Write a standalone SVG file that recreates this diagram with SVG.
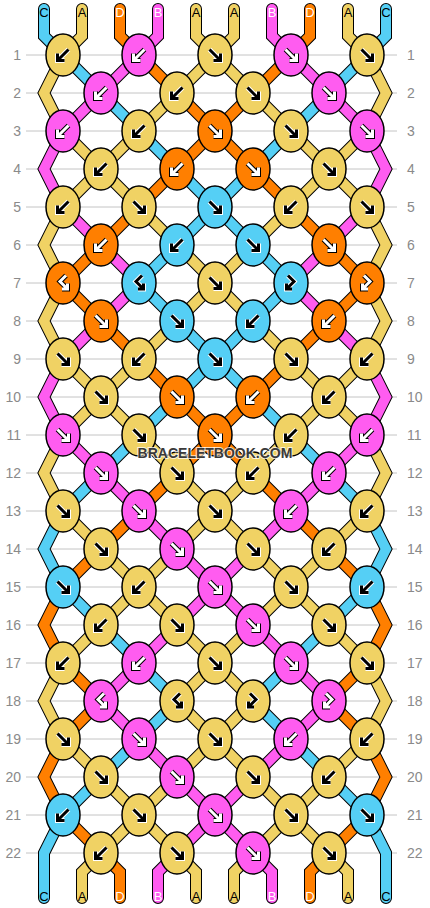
<svg xmlns="http://www.w3.org/2000/svg" xmlns:xlink="http://www.w3.org/1999/xlink" width="430" height="908" viewBox="0 0 430 908">
<style>
.ln{stroke:#c4c4c4;stroke-width:1}
.num{font-family:"Liberation Sans",Arial,sans-serif;font-size:14px;fill:#8a8a8a}
.so{fill:none;stroke:#000;stroke-width:12;stroke-linecap:round;stroke-linejoin:miter}
.sf{fill:none;stroke-width:10;stroke-linecap:round;stroke-linejoin:miter}
.cy{stroke:#F0D264}.cp{stroke:#FF5CF0}.co{stroke:#FF7F00}.cb{stroke:#55CFF5}
ellipse{stroke:#000;stroke-width:1.5}
.ky{fill:#F0D264}.kp{fill:#FF5CF0}.ko{fill:#FF7F00}.kc{fill:#55CFF5}
.aow{fill:none;stroke:#fff;stroke-width:5;stroke-linejoin:miter}
.aik{fill:none;stroke:#000;stroke-width:3;stroke-linejoin:miter}
.aok{fill:none;stroke:#000;stroke-width:5;stroke-linejoin:miter}
.aiw{fill:none;stroke:#fff;stroke-width:3;stroke-linejoin:miter}
.lt{font-family:"Liberation Sans",Arial,sans-serif;font-size:13px;text-anchor:middle}
.lk{fill:#000}.lw{fill:#fff}
.wm{font-family:"Liberation Sans",Arial,sans-serif;font-size:14px;font-weight:bold;text-anchor:middle;fill:#3a3a3a;stroke:#fff;stroke-width:2;stroke-opacity:0.75;paint-order:stroke}
</style>
<defs>
<path id="pf" d="M-5.5,-5.5 L5,5 M5.5,-1.5 L5.5,5.5 L-1.5,5.5"/>
<path id="pb" d="M5.5,-5.5 L-5,5 M-5.5,-1.5 L-5.5,5.5 L1.5,5.5"/>
<path id="pfb" d="M-3,-7.5 L3,-1.5 L-4,5.5 M-4.5,0.5 L-4.5,6 L1,6"/>
<path id="pbf" d="M3,-7.5 L-3,-1.5 L4,5.5 M4.5,0.5 L4.5,6 L-1,6"/>
<g id="fL"><use href="#pf" class="aow"/><use href="#pf" class="aik"/></g>
<g id="fD"><use href="#pf" class="aok"/><use href="#pf" class="aiw"/></g>
<g id="bL"><use href="#pb" class="aow"/><use href="#pb" class="aik"/></g>
<g id="bD"><use href="#pb" class="aok"/><use href="#pb" class="aiw"/></g>
<g id="fbL"><use href="#pfb" class="aow"/><use href="#pfb" class="aik"/></g>
<g id="fbD"><use href="#pfb" class="aok"/><use href="#pfb" class="aiw"/></g>
<g id="bfL"><use href="#pbf" class="aow"/><use href="#pbf" class="aik"/></g>
<g id="bfD"><use href="#pbf" class="aok"/><use href="#pbf" class="aiw"/></g>
<path id="s0" d="M44,9 L44,36 L63,55 L101,93 L139,131 L177,169 L215,207 L253,245 L291,283 L253,321 L215,359 L177,397 L139,435 L101,473 L63,511 L44,549 L63,587 L101,625 L139,663 L177,701 L139,739 L101,777 L63,815 L44,853 L44,898"/>
<path id="s1" d="M82,9 L82,36 L63,55 L44,93 L63,131 L101,169 L139,207 L177,245 L215,283 L253,321 L291,359 L329,397 L367,435 L386,473 L367,511 L329,549 L291,587 L253,625 L215,663 L177,701 L215,739 L253,777 L291,815 L329,853 L348,872 L348,898"/>
<path id="s2" d="M120,9 L120,36 L139,55 L177,93 L215,131 L253,169 L291,207 L329,245 L367,283 L329,321 L291,359 L253,397 L215,435 L177,473 L139,511 L101,549 L63,587 L44,625 L63,663 L101,701 L63,739 L44,777 L63,815 L101,853 L120,872 L120,898"/>
<path id="s3" d="M158,9 L158,36 L139,55 L101,93 L63,131 L44,169 L63,207 L101,245 L139,283 L101,321 L63,359 L44,397 L63,435 L101,473 L139,511 L177,549 L215,587 L253,625 L291,663 L329,701 L291,739 L253,777 L215,815 L177,853 L158,872 L158,898"/>
<path id="s4" d="M196,9 L196,36 L215,55 L253,93 L291,131 L329,169 L367,207 L386,245 L367,283 L386,321 L367,359 L329,397 L291,435 L253,473 L215,511 L177,549 L139,587 L101,625 L63,663 L44,701 L63,739 L101,777 L139,815 L177,853 L196,872 L196,898"/>
<path id="s5" d="M234,9 L234,36 L215,55 L177,93 L139,131 L101,169 L63,207 L44,245 L63,283 L44,321 L63,359 L101,397 L139,435 L177,473 L215,511 L253,549 L291,587 L329,625 L367,663 L386,701 L367,739 L329,777 L291,815 L253,853 L234,872 L234,898"/>
<path id="s6" d="M272,9 L272,36 L291,55 L329,93 L367,131 L386,169 L367,207 L329,245 L291,283 L329,321 L367,359 L386,397 L367,435 L329,473 L291,511 L253,549 L215,587 L177,625 L139,663 L101,701 L139,739 L177,777 L215,815 L253,853 L272,872 L272,898"/>
<path id="s7" d="M310,9 L310,36 L291,55 L253,93 L215,131 L177,169 L139,207 L101,245 L63,283 L101,321 L139,359 L177,397 L215,435 L253,473 L291,511 L329,549 L367,587 L386,625 L367,663 L329,701 L367,739 L386,777 L367,815 L329,853 L310,872 L310,898"/>
<path id="s8" d="M348,9 L348,36 L367,55 L386,93 L367,131 L329,169 L291,207 L253,245 L215,283 L177,321 L139,359 L101,397 L63,435 L44,473 L63,511 L101,549 L139,587 L177,625 L215,663 L253,701 L215,739 L177,777 L139,815 L101,853 L82,872 L82,898"/>
<path id="s9" d="M386,9 L386,36 L367,55 L329,93 L291,131 L253,169 L215,207 L177,245 L139,283 L177,321 L215,359 L253,397 L291,435 L329,473 L367,511 L386,549 L367,587 L329,625 L291,663 L253,701 L291,739 L329,777 L367,815 L386,853 L386,898"/>
</defs>
<rect width="430" height="908" fill="#fff"/>
<g id="rows">
<line class="ln" x1="26" y1="55" x2="397" y2="55"/><line class="ln" x1="26" y1="93" x2="397" y2="93"/><line class="ln" x1="26" y1="131" x2="397" y2="131"/><line class="ln" x1="26" y1="169" x2="397" y2="169"/><line class="ln" x1="26" y1="207" x2="397" y2="207"/><line class="ln" x1="26" y1="245" x2="397" y2="245"/><line class="ln" x1="26" y1="283" x2="397" y2="283"/><line class="ln" x1="26" y1="321" x2="397" y2="321"/><line class="ln" x1="26" y1="359" x2="397" y2="359"/><line class="ln" x1="26" y1="397" x2="397" y2="397"/><line class="ln" x1="26" y1="435" x2="397" y2="435"/><line class="ln" x1="26" y1="473" x2="397" y2="473"/><line class="ln" x1="26" y1="511" x2="397" y2="511"/><line class="ln" x1="26" y1="549" x2="397" y2="549"/><line class="ln" x1="26" y1="587" x2="397" y2="587"/><line class="ln" x1="26" y1="625" x2="397" y2="625"/><line class="ln" x1="26" y1="663" x2="397" y2="663"/><line class="ln" x1="26" y1="701" x2="397" y2="701"/><line class="ln" x1="26" y1="739" x2="397" y2="739"/><line class="ln" x1="26" y1="777" x2="397" y2="777"/><line class="ln" x1="26" y1="815" x2="397" y2="815"/><line class="ln" x1="26" y1="853" x2="397" y2="853"/>
<g class="num" text-anchor="end">
<text x="21" y="60">1</text><text x="21" y="98">2</text><text x="21" y="136">3</text><text x="21" y="174">4</text><text x="21" y="212">5</text><text x="21" y="250">6</text><text x="21" y="288">7</text><text x="21" y="326">8</text><text x="21" y="364">9</text><text x="21" y="402">10</text><text x="21" y="440">11</text><text x="21" y="478">12</text><text x="21" y="516">13</text><text x="21" y="554">14</text><text x="21" y="592">15</text><text x="21" y="630">16</text><text x="21" y="668">17</text><text x="21" y="706">18</text><text x="21" y="744">19</text><text x="21" y="782">20</text><text x="21" y="820">21</text><text x="21" y="858">22</text>
</g>
<g class="num" text-anchor="start">
<text x="407" y="60">1</text><text x="407" y="98">2</text><text x="407" y="136">3</text><text x="407" y="174">4</text><text x="407" y="212">5</text><text x="407" y="250">6</text><text x="407" y="288">7</text><text x="407" y="326">8</text><text x="407" y="364">9</text><text x="407" y="402">10</text><text x="407" y="440">11</text><text x="407" y="478">12</text><text x="407" y="516">13</text><text x="407" y="554">14</text><text x="407" y="592">15</text><text x="407" y="630">16</text><text x="407" y="668">17</text><text x="407" y="706">18</text><text x="407" y="744">19</text><text x="407" y="782">20</text><text x="407" y="820">21</text><text x="407" y="858">22</text>
</g>
</g>
<g id="connectors">
<use href="#s0" class="so"/><use href="#s1" class="so"/><use href="#s2" class="so"/><use href="#s3" class="so"/><use href="#s4" class="so"/><use href="#s5" class="so"/><use href="#s6" class="so"/><use href="#s7" class="so"/><use href="#s8" class="so"/><use href="#s9" class="so"/>
<use href="#s0" class="sf cb"/><use href="#s1" class="sf cy"/><use href="#s2" class="sf co"/><use href="#s3" class="sf cp"/><use href="#s4" class="sf cy"/><use href="#s5" class="sf cy"/><use href="#s6" class="sf cp"/><use href="#s7" class="sf co"/><use href="#s8" class="sf cy"/><use href="#s9" class="sf cb"/>
</g>
<g id="labels" class="lt">
<text class="lk" x="44" y="17">C</text><text class="lk" x="82" y="17">A</text><text class="lw" x="120" y="17">D</text><text class="lw" x="158" y="17">B</text><text class="lk" x="196" y="17">A</text><text class="lk" x="234" y="17">A</text><text class="lw" x="272" y="17">B</text><text class="lw" x="310" y="17">D</text><text class="lk" x="348" y="17">A</text><text class="lk" x="386" y="17">C</text>
<text class="lk" x="44" y="901">C</text><text class="lk" x="82" y="901">A</text><text class="lw" x="120" y="901">D</text><text class="lw" x="158" y="901">B</text><text class="lk" x="196" y="901">A</text><text class="lk" x="234" y="901">A</text><text class="lw" x="272" y="901">B</text><text class="lw" x="310" y="901">D</text><text class="lk" x="348" y="901">A</text><text class="lk" x="386" y="901">C</text>
</g>
<g id="knots">
<g id="k1-1"><ellipse class="ky" cx="63" cy="55" rx="17" ry="21"/><use href="#bL" x="63" y="55"/></g>
<g id="k1-2"><ellipse class="kp" cx="139" cy="55" rx="17" ry="21"/><use href="#bD" x="139" y="55"/></g>
<g id="k1-3"><ellipse class="ky" cx="215" cy="55" rx="17" ry="21"/><use href="#fL" x="215" y="55"/></g>
<g id="k1-4"><ellipse class="kp" cx="291" cy="55" rx="17" ry="21"/><use href="#fD" x="291" y="55"/></g>
<g id="k1-5"><ellipse class="ky" cx="367" cy="55" rx="17" ry="21"/><use href="#fL" x="367" y="55"/></g>
<g id="k2-1"><ellipse class="kp" cx="101" cy="93" rx="17" ry="21"/><use href="#bD" x="101" y="93"/></g>
<g id="k2-2"><ellipse class="ky" cx="177" cy="93" rx="17" ry="21"/><use href="#bL" x="177" y="93"/></g>
<g id="k2-3"><ellipse class="ky" cx="253" cy="93" rx="17" ry="21"/><use href="#fL" x="253" y="93"/></g>
<g id="k2-4"><ellipse class="kp" cx="329" cy="93" rx="17" ry="21"/><use href="#fD" x="329" y="93"/></g>
<g id="k3-1"><ellipse class="kp" cx="63" cy="131" rx="17" ry="21"/><use href="#bD" x="63" y="131"/></g>
<g id="k3-2"><ellipse class="ky" cx="139" cy="131" rx="17" ry="21"/><use href="#bL" x="139" y="131"/></g>
<g id="k3-3"><ellipse class="ko" cx="215" cy="131" rx="17" ry="21"/><use href="#fD" x="215" y="131"/></g>
<g id="k3-4"><ellipse class="ky" cx="291" cy="131" rx="17" ry="21"/><use href="#fL" x="291" y="131"/></g>
<g id="k3-5"><ellipse class="kp" cx="367" cy="131" rx="17" ry="21"/><use href="#fD" x="367" y="131"/></g>
<g id="k4-1"><ellipse class="ky" cx="101" cy="169" rx="17" ry="21"/><use href="#bL" x="101" y="169"/></g>
<g id="k4-2"><ellipse class="ko" cx="177" cy="169" rx="17" ry="21"/><use href="#bD" x="177" y="169"/></g>
<g id="k4-3"><ellipse class="ko" cx="253" cy="169" rx="17" ry="21"/><use href="#fD" x="253" y="169"/></g>
<g id="k4-4"><ellipse class="ky" cx="329" cy="169" rx="17" ry="21"/><use href="#fL" x="329" y="169"/></g>
<g id="k5-1"><ellipse class="ky" cx="63" cy="207" rx="17" ry="21"/><use href="#bL" x="63" y="207"/></g>
<g id="k5-2"><ellipse class="ky" cx="139" cy="207" rx="17" ry="21"/><use href="#fL" x="139" y="207"/></g>
<g id="k5-3"><ellipse class="kc" cx="215" cy="207" rx="17" ry="21"/><use href="#fL" x="215" y="207"/></g>
<g id="k5-4"><ellipse class="ky" cx="291" cy="207" rx="17" ry="21"/><use href="#bL" x="291" y="207"/></g>
<g id="k5-5"><ellipse class="ky" cx="367" cy="207" rx="17" ry="21"/><use href="#fL" x="367" y="207"/></g>
<g id="k6-1"><ellipse class="ko" cx="101" cy="245" rx="17" ry="21"/><use href="#bD" x="101" y="245"/></g>
<g id="k6-2"><ellipse class="kc" cx="177" cy="245" rx="17" ry="21"/><use href="#bL" x="177" y="245"/></g>
<g id="k6-3"><ellipse class="kc" cx="253" cy="245" rx="17" ry="21"/><use href="#fL" x="253" y="245"/></g>
<g id="k6-4"><ellipse class="ko" cx="329" cy="245" rx="17" ry="21"/><use href="#fD" x="329" y="245"/></g>
<g id="k7-1"><ellipse class="ko" cx="63" cy="283" rx="17" ry="21"/><use href="#bfD" x="63" y="283"/></g>
<g id="k7-2"><ellipse class="kc" cx="139" cy="283" rx="17" ry="21"/><use href="#bfL" x="139" y="283"/></g>
<g id="k7-3"><ellipse class="ky" cx="215" cy="283" rx="17" ry="21"/><use href="#fL" x="215" y="283"/></g>
<g id="k7-4"><ellipse class="kc" cx="291" cy="283" rx="17" ry="21"/><use href="#fbL" x="291" y="283"/></g>
<g id="k7-5"><ellipse class="ko" cx="367" cy="283" rx="17" ry="21"/><use href="#fbD" x="367" y="283"/></g>
<g id="k8-1"><ellipse class="ko" cx="101" cy="321" rx="17" ry="21"/><use href="#fD" x="101" y="321"/></g>
<g id="k8-2"><ellipse class="kc" cx="177" cy="321" rx="17" ry="21"/><use href="#fL" x="177" y="321"/></g>
<g id="k8-3"><ellipse class="kc" cx="253" cy="321" rx="17" ry="21"/><use href="#bL" x="253" y="321"/></g>
<g id="k8-4"><ellipse class="ko" cx="329" cy="321" rx="17" ry="21"/><use href="#bD" x="329" y="321"/></g>
<g id="k9-1"><ellipse class="ky" cx="63" cy="359" rx="17" ry="21"/><use href="#fL" x="63" y="359"/></g>
<g id="k9-2"><ellipse class="ky" cx="139" cy="359" rx="17" ry="21"/><use href="#bL" x="139" y="359"/></g>
<g id="k9-3"><ellipse class="kc" cx="215" cy="359" rx="17" ry="21"/><use href="#fL" x="215" y="359"/></g>
<g id="k9-4"><ellipse class="ky" cx="291" cy="359" rx="17" ry="21"/><use href="#fL" x="291" y="359"/></g>
<g id="k9-5"><ellipse class="ky" cx="367" cy="359" rx="17" ry="21"/><use href="#bL" x="367" y="359"/></g>
<g id="k10-1"><ellipse class="ky" cx="101" cy="397" rx="17" ry="21"/><use href="#fL" x="101" y="397"/></g>
<g id="k10-2"><ellipse class="ko" cx="177" cy="397" rx="17" ry="21"/><use href="#fD" x="177" y="397"/></g>
<g id="k10-3"><ellipse class="ko" cx="253" cy="397" rx="17" ry="21"/><use href="#bD" x="253" y="397"/></g>
<g id="k10-4"><ellipse class="ky" cx="329" cy="397" rx="17" ry="21"/><use href="#bL" x="329" y="397"/></g>
<g id="k11-1"><ellipse class="kp" cx="63" cy="435" rx="17" ry="21"/><use href="#fD" x="63" y="435"/></g>
<g id="k11-2"><ellipse class="ky" cx="139" cy="435" rx="17" ry="21"/><use href="#fL" x="139" y="435"/></g>
<g id="k11-3"><ellipse class="ko" cx="215" cy="435" rx="17" ry="21"/><use href="#fD" x="215" y="435"/></g>
<g id="k11-4"><ellipse class="ky" cx="291" cy="435" rx="17" ry="21"/><use href="#bL" x="291" y="435"/></g>
<g id="k11-5"><ellipse class="kp" cx="367" cy="435" rx="17" ry="21"/><use href="#bD" x="367" y="435"/></g>
<g id="k12-1"><ellipse class="kp" cx="101" cy="473" rx="17" ry="21"/><use href="#fD" x="101" y="473"/></g>
<g id="k12-2"><ellipse class="ky" cx="177" cy="473" rx="17" ry="21"/><use href="#fL" x="177" y="473"/></g>
<g id="k12-3"><ellipse class="ky" cx="253" cy="473" rx="17" ry="21"/><use href="#bL" x="253" y="473"/></g>
<g id="k12-4"><ellipse class="kp" cx="329" cy="473" rx="17" ry="21"/><use href="#bD" x="329" y="473"/></g>
<g id="k13-1"><ellipse class="ky" cx="63" cy="511" rx="17" ry="21"/><use href="#fL" x="63" y="511"/></g>
<g id="k13-2"><ellipse class="kp" cx="139" cy="511" rx="17" ry="21"/><use href="#fD" x="139" y="511"/></g>
<g id="k13-3"><ellipse class="ky" cx="215" cy="511" rx="17" ry="21"/><use href="#fL" x="215" y="511"/></g>
<g id="k13-4"><ellipse class="kp" cx="291" cy="511" rx="17" ry="21"/><use href="#bD" x="291" y="511"/></g>
<g id="k13-5"><ellipse class="ky" cx="367" cy="511" rx="17" ry="21"/><use href="#bL" x="367" y="511"/></g>
<g id="k14-1"><ellipse class="ky" cx="101" cy="549" rx="17" ry="21"/><use href="#fL" x="101" y="549"/></g>
<g id="k14-2"><ellipse class="kp" cx="177" cy="549" rx="17" ry="21"/><use href="#fD" x="177" y="549"/></g>
<g id="k14-3"><ellipse class="ky" cx="253" cy="549" rx="17" ry="21"/><use href="#fL" x="253" y="549"/></g>
<g id="k14-4"><ellipse class="ky" cx="329" cy="549" rx="17" ry="21"/><use href="#bL" x="329" y="549"/></g>
<g id="k15-1"><ellipse class="kc" cx="63" cy="587" rx="17" ry="21"/><use href="#fL" x="63" y="587"/></g>
<g id="k15-2"><ellipse class="ky" cx="139" cy="587" rx="17" ry="21"/><use href="#bL" x="139" y="587"/></g>
<g id="k15-3"><ellipse class="kp" cx="215" cy="587" rx="17" ry="21"/><use href="#fD" x="215" y="587"/></g>
<g id="k15-4"><ellipse class="ky" cx="291" cy="587" rx="17" ry="21"/><use href="#fL" x="291" y="587"/></g>
<g id="k15-5"><ellipse class="kc" cx="367" cy="587" rx="17" ry="21"/><use href="#bL" x="367" y="587"/></g>
<g id="k16-1"><ellipse class="ky" cx="101" cy="625" rx="17" ry="21"/><use href="#bL" x="101" y="625"/></g>
<g id="k16-2"><ellipse class="ky" cx="177" cy="625" rx="17" ry="21"/><use href="#fL" x="177" y="625"/></g>
<g id="k16-3"><ellipse class="kp" cx="253" cy="625" rx="17" ry="21"/><use href="#fD" x="253" y="625"/></g>
<g id="k16-4"><ellipse class="ky" cx="329" cy="625" rx="17" ry="21"/><use href="#fL" x="329" y="625"/></g>
<g id="k17-1"><ellipse class="ky" cx="63" cy="663" rx="17" ry="21"/><use href="#bL" x="63" y="663"/></g>
<g id="k17-2"><ellipse class="kp" cx="139" cy="663" rx="17" ry="21"/><use href="#bD" x="139" y="663"/></g>
<g id="k17-3"><ellipse class="ky" cx="215" cy="663" rx="17" ry="21"/><use href="#fL" x="215" y="663"/></g>
<g id="k17-4"><ellipse class="kp" cx="291" cy="663" rx="17" ry="21"/><use href="#fD" x="291" y="663"/></g>
<g id="k17-5"><ellipse class="ky" cx="367" cy="663" rx="17" ry="21"/><use href="#fL" x="367" y="663"/></g>
<g id="k18-1"><ellipse class="kp" cx="101" cy="701" rx="17" ry="21"/><use href="#bfD" x="101" y="701"/></g>
<g id="k18-2"><ellipse class="ky" cx="177" cy="701" rx="17" ry="21"/><use href="#bfL" x="177" y="701"/></g>
<g id="k18-3"><ellipse class="ky" cx="253" cy="701" rx="17" ry="21"/><use href="#fbL" x="253" y="701"/></g>
<g id="k18-4"><ellipse class="kp" cx="329" cy="701" rx="17" ry="21"/><use href="#fbD" x="329" y="701"/></g>
<g id="k19-1"><ellipse class="ky" cx="63" cy="739" rx="17" ry="21"/><use href="#fL" x="63" y="739"/></g>
<g id="k19-2"><ellipse class="kp" cx="139" cy="739" rx="17" ry="21"/><use href="#fD" x="139" y="739"/></g>
<g id="k19-3"><ellipse class="ky" cx="215" cy="739" rx="17" ry="21"/><use href="#fL" x="215" y="739"/></g>
<g id="k19-4"><ellipse class="kp" cx="291" cy="739" rx="17" ry="21"/><use href="#bD" x="291" y="739"/></g>
<g id="k19-5"><ellipse class="ky" cx="367" cy="739" rx="17" ry="21"/><use href="#bL" x="367" y="739"/></g>
<g id="k20-1"><ellipse class="ky" cx="101" cy="777" rx="17" ry="21"/><use href="#fL" x="101" y="777"/></g>
<g id="k20-2"><ellipse class="kp" cx="177" cy="777" rx="17" ry="21"/><use href="#fD" x="177" y="777"/></g>
<g id="k20-3"><ellipse class="ky" cx="253" cy="777" rx="17" ry="21"/><use href="#fL" x="253" y="777"/></g>
<g id="k20-4"><ellipse class="ky" cx="329" cy="777" rx="17" ry="21"/><use href="#bL" x="329" y="777"/></g>
<g id="k21-1"><ellipse class="kc" cx="63" cy="815" rx="17" ry="21"/><use href="#bL" x="63" y="815"/></g>
<g id="k21-2"><ellipse class="ky" cx="139" cy="815" rx="17" ry="21"/><use href="#fL" x="139" y="815"/></g>
<g id="k21-3"><ellipse class="kp" cx="215" cy="815" rx="17" ry="21"/><use href="#fD" x="215" y="815"/></g>
<g id="k21-4"><ellipse class="ky" cx="291" cy="815" rx="17" ry="21"/><use href="#fL" x="291" y="815"/></g>
<g id="k21-5"><ellipse class="kc" cx="367" cy="815" rx="17" ry="21"/><use href="#fL" x="367" y="815"/></g>
<g id="k22-1"><ellipse class="ky" cx="101" cy="853" rx="17" ry="21"/><use href="#bL" x="101" y="853"/></g>
<g id="k22-2"><ellipse class="ky" cx="177" cy="853" rx="17" ry="21"/><use href="#fL" x="177" y="853"/></g>
<g id="k22-3"><ellipse class="kp" cx="253" cy="853" rx="17" ry="21"/><use href="#fD" x="253" y="853"/></g>
<g id="k22-4"><ellipse class="ky" cx="329" cy="853" rx="17" ry="21"/><use href="#fL" x="329" y="853"/></g>
</g>
<text class="wm" x="215" y="458">BRACELETBOOK.COM</text>
</svg>
